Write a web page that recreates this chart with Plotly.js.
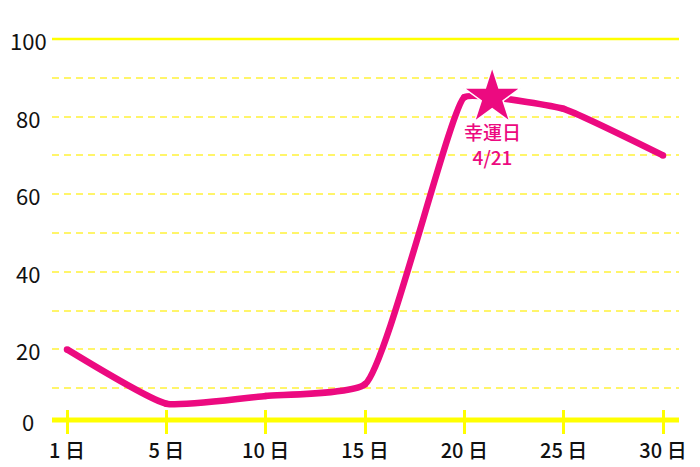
<!DOCTYPE html>
<html>
<head>
<meta charset="utf-8">
<script src="https://cdn.plot.ly/plotly-3.0.1.min.js"></script>
<style>
html,body{margin:0;padding:0;background:#fff;}
#chart{width:700px;height:467px;}
</style>
</head>
<body>
<div id="chart"></div>
<script>
// ---- data ----
var dayLabels = ['1 日', '5 日', '10 日', '15 日', '20 日', '25 日', '30 日'];
var dayIndex = [0, 1, 2, 3, 4, 5, 6];
var fortune = [20, 6, 8, 11, 85, 82, 70];
var luckyIndex = 4.28;      // position of 4/21 between the 20 日 and 25 日 categories
var luckyValue = 85;
var luckyLabel = '幸運日<br>4/21';
var yLabelVals = [0, 20, 40, 60, 80, 100];

// ---- style ----
var PINK = '#EC0A80';
var YELLOW = '#FFFF00';
var GRID = '#FFF56A';
var FONT = '"Noto Sans CJK JP", "Noto Sans", sans-serif';
var yMin = 1.8, yMax = 100;
var xRange = [-0.151, 6.161];

// line series including the lucky day point (sorted by position)
var lineX = [], lineY = [];
var inserted = false;
for (var i = 0; i < dayIndex.length; i++) {
  if (!inserted && dayIndex[i] > luckyIndex) {
    lineX.push(luckyIndex); lineY.push(luckyValue); inserted = true;
  }
  lineX.push(dayIndex[i]); lineY.push(fortune[i]);
}

var traces = [
  {
    type: 'scatter', mode: 'lines+markers',
    x: lineX, y: lineY,
    line: {color: PINK, width: 6.5, shape: 'spline', smoothing: 0.45},
    marker: {color: PINK, size: 6.5},
    hoverinfo: 'skip', showlegend: false
  },
  {
    type: 'scatter', mode: 'markers',
    x: [luckyIndex], y: [luckyValue],
    xaxis: 'x2', yaxis: 'y',
    marker: {symbol: 'star', size: 43, color: PINK, line: {color: '#ffffff', width: 1.5}},
    hoverinfo: 'skip', showlegend: false
  }
];

var annotations = yLabelVals.map(function (v) {
  return {
    xref: 'paper', x: 0, xshift: -24, xanchor: 'center',
    yref: 'y', y: Math.max(v, yMin), yanchor: 'middle', yshift: -1,
    text: String(v), showarrow: false,
    font: {family: FONT, size: 22, color: '#111111'}
  };
});
annotations.push({
  xref: 'x', x: luckyIndex, yref: 'y', y: luckyValue,
  xanchor: 'center', yanchor: 'middle', yshift: -47,
  text: luckyLabel, showarrow: false,
  font: {family: FONT, size: 19, weight: 500, color: PINK}
});

var layout = {
  width: 700, height: 467,
  margin: {l: 52, r: 21, t: 39, b: 47},
  paper_bgcolor: '#ffffff', plot_bgcolor: '#ffffff',
  showlegend: false,
  xaxis: {
    range: xRange, tickmode: 'array', tickvals: dayIndex, ticktext: dayLabels,
    ticks: 'outside', ticklen: 13, tickwidth: 3, tickcolor: YELLOW,
    showgrid: false, zeroline: false, showline: false,
    tickfont: {family: FONT, size: 20, weight: 500, color: '#111111'},
    fixedrange: true
  },
  xaxis2: {
    overlaying: 'x', anchor: 'y', side: 'bottom',
    range: xRange, tickmode: 'array', tickvals: dayIndex,
    ticks: 'inside', ticklen: 10, tickwidth: 3, tickcolor: YELLOW,
    showticklabels: false, showgrid: false, zeroline: false, showline: false,
    fixedrange: true
  },
  yaxis: {
    range: [yMin, yMax], tick0: 0, dtick: 10,
    showticklabels: false, ticks: '',
    showgrid: true, gridcolor: GRID, gridwidth: 2, griddash: '7px,5px',
    zeroline: false, showline: false, fixedrange: true
  },
  shapes: [
    {type: 'line', xref: 'paper', x0: 0, x1: 1, yref: 'paper', y0: 1, y1: 1,
     line: {color: YELLOW, width: 2.5}},
    {type: 'line', xref: 'paper', x0: 0, x1: 1, yref: 'paper', y0: 0, y1: 0,
     line: {color: YELLOW, width: 5}}
  ],
  annotations: annotations
};

Plotly.newPlot('chart', traces, layout, {staticPlot: true, displayModeBar: false});
</script>
</body>
</html>
